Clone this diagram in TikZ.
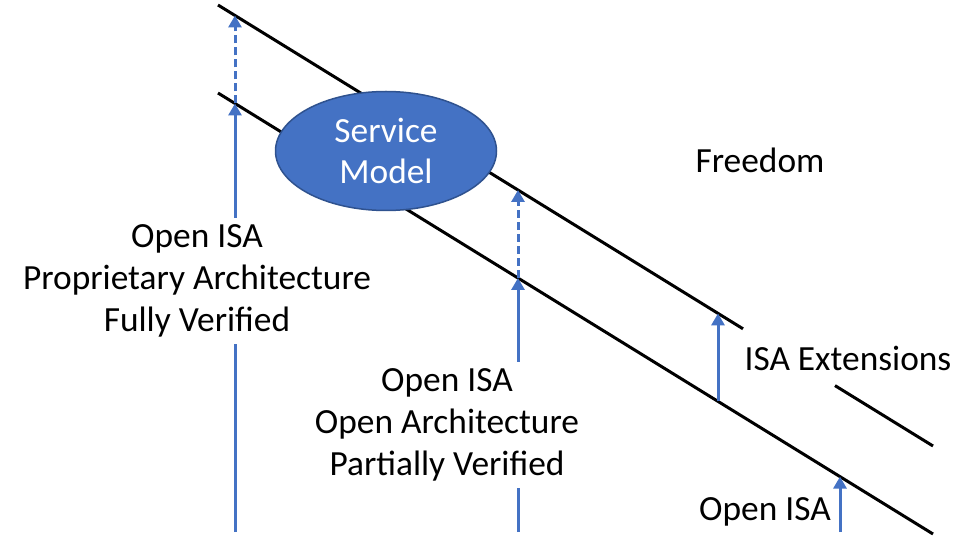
\documentclass[tikz,border=0pt]{standalone}
\usepackage{fontspec}
\setmainfont{Carlito}
\usetikzlibrary{arrows.meta, shapes.geometric}

\definecolor{azul}{HTML}{4472C4}
\definecolor{azulborde}{HTML}{2F528F}

\tikzset{
	linea/.style={line width=3bp, black},
	flecha/.style={line width=3bp, azul, -{Triangle[width=13bp,length=12bp]}},
	rayas/.style={dash pattern=on 8bp off 4bp},
	texto/.style={font=\fontsize{35.5}{42}\selectfont, align=center, inner sep=3bp},
	tapa/.style={fill=white, inner ysep=7bp},
	modelo/.style={ellipse, fill=azul, draw=azulborde, line width=1.5bp, text=white,
		minimum width=221bp, minimum height=119bp, inner sep=0pt},
}

\begin{document}
\begin{tikzpicture}[x=1bp, y=-1bp]
	\useasboundingbox (0,0) rectangle (974,552);

		% Puntos de las lineas diagonales
		\coordinate (sup1) at (218,5); % inicio linea superior
		\coordinate (sup2) at (743,328.8); % corte antes del texto
		\coordinate (sup3) at (835,385.6); % sigue despues del texto
		\coordinate (sup4) at (933,446);
		\coordinate (inf1) at (218,93); % linea inferior
		\coordinate (inf2) at (933,534);

		% Lineas diagonales
		\draw[linea] (sup1) -- (sup2);
		\draw[linea] (sup3) -- (sup4);
		\draw[linea] (inf1) -- (inf2);

		% Flecha izquierda
		\coordinate (izqBase) at (235,532);
		\coordinate (izqInf) at (235,103.5);
		\coordinate (izqSup) at (235,15.5);
		\draw[flecha] (izqBase) -- (izqInf);
		\draw[flecha, rayas] (izqInf) -- (izqSup);

		% Flecha central
		\coordinate (cenBase) at (518,532);
		\coordinate (cenInf) at (518,278);
		\coordinate (cenSup) at (518,190);
		\draw[flecha] (cenBase) -- (cenInf);
		\draw[flecha, rayas] (cenInf) -- (cenSup);

		% Flechas derechas
		\coordinate (extInf) at (718,401.4);
		\coordinate (extSup) at (718,313.4);
		\draw[flecha] (extInf) -- (extSup);
		\coordinate (isaBase) at (840,532);
		\coordinate (isaInf) at (840,476.6);
		\draw[flecha] (isaBase) -- (isaInf);

		% Etiquetas
		\node[texto, tapa] (propietaria) at (197,281) {Open ISA\\Proprietary Architecture\\Fully Verified};
		\node[texto, tapa] (abierta) at (447,425) {Open ISA\\Open Architecture\\Partially Verified};
		\node[texto] (libertad) at (760,160) {Freedom};
		\node[texto] (extensiones) at (848,358) {ISA Extensions};
		\node[texto] (isa) at (765,512) {Open ISA};

		% Elipse del modelo de servicio
		\node[modelo, texto] (servicio) at (386,151) {Service\\Model};

	\end{tikzpicture}
\end{document}
